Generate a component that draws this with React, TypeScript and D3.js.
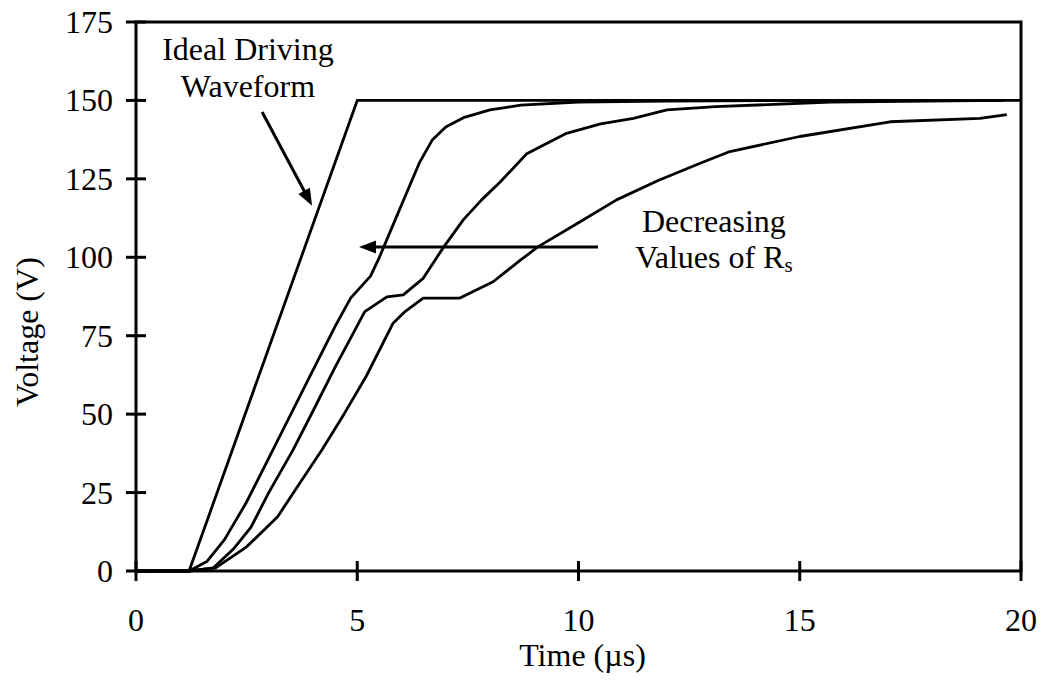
import React from "react";
import * as d3 from "d3";

// ---- data (time in µs, voltage in V) ----
const idealT = [0, 1.2, 5, 20];
const idealV = [0, 0, 150, 150];

const fastT = [0, 1.2, 1.6, 2.0, 2.5, 3.0, 3.5, 4.0, 4.5, 4.85, 5.3, 5.5, 5.8, 6.1, 6.4, 6.7, 7.0, 7.4, 8.0, 8.7, 10, 12, 15, 19.6];
const fastV = [0, 0, 3, 10, 22, 36, 50, 64, 78, 87, 94, 100, 110, 120, 130, 137.5, 141.5, 144.5, 147, 148.5, 149.5, 149.8, 150, 150];

const midT = [0, 1.2, 1.75, 2.2, 2.6, 3.0, 3.55, 4.0, 4.5, 5.17, 5.67, 6.04, 6.49, 6.94, 7.4, 7.81, 8.23, 8.83, 9.73, 10.5, 11.24, 12.0, 13.1, 15.7, 19.6];
const midV = [0, 0, 1, 7, 14, 25, 38.6, 51, 65, 82.7, 87.4, 88, 93.3, 103, 112, 118.3, 124, 133, 139.5, 142.5, 144.3, 147, 148, 149.5, 150];

const slowT = [0, 1.2, 1.8, 2.5, 3.2, 3.7, 4.2, 4.7, 5.2, 5.81, 6.08, 6.49, 7.32, 8.07, 8.68, 9.09, 10.0, 10.86, 11.8, 12.75, 13.42, 15.0, 17.04, 19.07, 19.68];
const slowV = [0, 0, 1, 7.7, 17.3, 28, 38.6, 50, 62, 79, 82.7, 87, 87, 92.2, 99, 103.4, 111, 118.3, 124.5, 130, 133.7, 138.5, 143.2, 144.3, 145.5];

const xTicks = [0, 5, 10, 15, 20];
const yTicks = [0, 25, 50, 75, 100, 125, 150, 175];

const xTitle = "Time (\u00b5s)";
const yTitle = "Voltage (V)";

// annotations (data coordinates)
const idealLabel = ["Ideal Driving", "Waveform"];
const idealLabelAt = { t: 2.53, v: [162.9, 151.1] };
const idealArrow = { from: [2.85, 146.3], to: [3.98, 116.4] };
const rsLabelAt = { t: 13.06, v: [108.1, 96.6] };
const rsArrow = { from: [10.44, 103.3], to: [5.04, 103.3] };

const W = 1042;
const H = 683;
const left = 136;
const right = 1021;
const top = 22;
const bottom = 571;
const FONT = "'Liberation Serif', 'Times New Roman', serif";
const FS = 32;

function arrowHead(x1: number, y1: number, x2: number, y2: number, len = 17, half = 6.5) {
  const a = Math.atan2(y2 - y1, x2 - x1);
  const bx = x2 - len * Math.cos(a);
  const by = y2 - len * Math.sin(a);
  const px = -Math.sin(a) * half;
  const py = Math.cos(a) * half;
  return `${x2},${y2} ${bx + px},${by + py} ${bx - px},${by - py}`;
}

export default function App() {
  const x = d3.scaleLinear().domain([0, 20]).range([left, right]);
  const y = d3.scaleLinear().domain([0, 175]).range([bottom, top]);
  const line = d3
    .line<[number, number]>()
    .x((d) => x(d[0]))
    .y((d) => y(d[1]));

  const mk = (ts: number[], vs: number[]) => ts.map((t, i) => [t, vs[i]] as [number, number]);
  const series = [mk(idealT, idealV), mk(fastT, fastV), mk(midT, midV), mk(slowT, slowV)];

  const a1 = {
    x1: x(idealArrow.from[0]),
    y1: y(idealArrow.from[1]),
    x2: x(idealArrow.to[0]),
    y2: y(idealArrow.to[1]),
  };
  const a2 = {
    x1: x(rsArrow.from[0]),
    y1: y(rsArrow.from[1]),
    x2: x(rsArrow.to[0]),
    y2: y(rsArrow.to[1]),
  };
  const shorten = (a: { x1: number; y1: number; x2: number; y2: number }, d: number) => {
    const L = Math.hypot(a.x2 - a.x1, a.y2 - a.y1);
    return {
      x: a.x2 - ((a.x2 - a.x1) * d) / L,
      y: a.y2 - ((a.y2 - a.y1) * d) / L,
    };
  };
  const e1 = shorten(a1, 10);
  const e2 = shorten(a2, 10);

  return (
    <svg
      width={W}
      height={H}
      style={{ position: "absolute", left: 0, top: 0, background: "#fff" }}
      fontFamily={FONT}
    >
      <rect x={0} y={0} width={W} height={H} fill="#fff" />
      {/* frame */}
      <rect x={left} y={top} width={right - left} height={bottom - top} fill="none" stroke="#000" strokeWidth={3} />
      {/* y ticks */}
      {yTicks.map((v) => (
        <g key={"y" + v}>
          <line x1={left - 10} x2={left + 10} y1={y(v)} y2={y(v)} stroke="#000" strokeWidth={3} />
          <text x={left - 23} y={y(v) + 11} fontSize={FS} textAnchor="end" fill="#000">
            {v}
          </text>
        </g>
      ))}
      {/* x ticks */}
      {xTicks.map((t) => (
        <g key={"x" + t}>
          <line x1={x(t)} x2={x(t)} y1={bottom - 10} y2={bottom + 10} stroke="#000" strokeWidth={3} />
          <text x={x(t)} y={bottom + 60} fontSize={FS} textAnchor="middle" fill="#000">
            {t}
          </text>
        </g>
      ))}
      {/* titles */}
      <text x={(left + right) / 2 + 4} y={666} fontSize={FS} textAnchor="middle" fill="#000">
        {xTitle}
      </text>
      <text
        transform={`translate(38, 332) rotate(-90)`}
        fontSize={FS}
        textAnchor="middle"
        fill="#000"
      >
        {yTitle}
      </text>
      {/* curves */}
      {series.map((s, i) => (
        <path key={i} d={line(s) || ""} fill="none" stroke="#000" strokeWidth={2.8} strokeLinejoin="round" />
      ))}
      {/* annotations */}
      {idealLabel.map((s, i) => (
        <text key={s} x={x(idealLabelAt.t)} y={y(idealLabelAt.v[i])} fontSize={FS} textAnchor="middle" fill="#000">
          {s}
        </text>
      ))}
      <line x1={a1.x1} y1={a1.y1} x2={e1.x} y2={e1.y} stroke="#000" strokeWidth={3} />
      <polygon points={arrowHead(a1.x1, a1.y1, a1.x2, a1.y2)} fill="#000" />
      <line x1={a2.x1} y1={a2.y1} x2={e2.x} y2={e2.y} stroke="#000" strokeWidth={3} />
      <polygon points={arrowHead(a2.x1, a2.y1, a2.x2, a2.y2)} fill="#000" />
      <text x={x(rsLabelAt.t)} y={y(rsLabelAt.v[0])} fontSize={FS} textAnchor="middle" fill="#000">
        Decreasing
      </text>
      <text x={x(rsLabelAt.t)} y={y(rsLabelAt.v[1])} fontSize={FS} textAnchor="middle" fill="#000">
        Values of R
        <tspan fontSize={21} dy={4}>
          s
        </tspan>
      </text>
    </svg>
  );
}
